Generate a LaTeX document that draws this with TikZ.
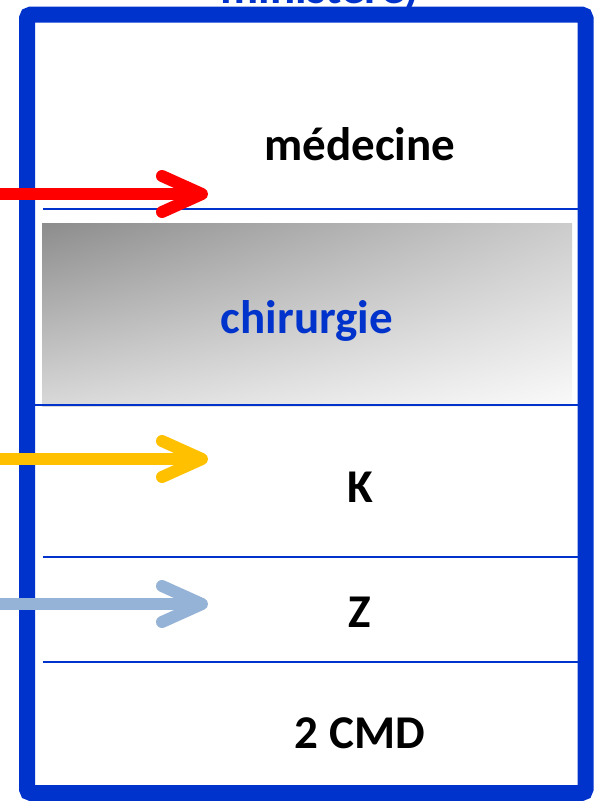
\documentclass[tikz,border=0pt]{standalone}
\usepackage{fontspec}
\setmainfont{Carlito}
\usetikzlibrary{arrows.meta,shadings}
\definecolor{frameblue}{RGB}{0,51,204}
\definecolor{arrowred}{RGB}{255,0,0}
\definecolor{arrowyellow}{RGB}{255,192,0}
\definecolor{arrowsky}{RGB}{149,179,215}

\begin{document}
\begin{tikzpicture}[x=1pt, y=-1pt,
    bandtext/.style={font=\fontsize{47}{56}\selectfont\bfseries, anchor=base, inner sep=0pt},
    divider/.style={frameblue, line width=1.5pt},
    pointer/.style={line width=12pt, -{Straight Barb[length=40pt, width=36pt, line cap=round, line join=round]}}]
    \useasboundingbox (0,0) rectangle (594,801);
    \clip (0,0) rectangle (594,801);

    % Shaded band
    \shade[upper left=black!45, upper right=black!20, lower left=black!15, lower right=black!2]
        (42,223) rectangle (572,406);

    % Dividers
    \draw[divider] (43,209) -- (578,209);
    \draw[divider] (35,405) -- (578,405);
    \draw[divider] (43,557) -- (578,557);
    \draw[divider] (43,662) -- (578,662);

    % Frame
    \draw[frameblue, line width=16pt, rounded corners=4pt] (27,14.5) rectangle (585.5,793);

    % Labels
    \node[bandtext, frameblue] (ministere) at (320,3) {ministère)};
    \node[bandtext] (medecine) at (360,160) {médecine};
    \node[bandtext, frameblue] (chirurgie) at (307,333) {chirurgie};
    \node[bandtext] (k) at (360,502) {K};
    \node[bandtext] (z) at (360,627) {Z};
    \node[bandtext] (cmd) at (360,748) {2 CMD};

    % Arrows
    \coordinate (redstart) at (-5,194);
    \coordinate (redend) at (208,194);
    \coordinate (yellowstart) at (-5,459);
    \coordinate (yellowend) at (208,459);
    \coordinate (skystart) at (-5,604);
    \coordinate (skyend) at (208,604);
    \draw[pointer, arrowred] (redstart) -- (redend);
    \draw[pointer, arrowyellow] (yellowstart) -- (yellowend);
    \draw[pointer, arrowsky] (skystart) -- (skyend);
\end{tikzpicture}
\end{document}
